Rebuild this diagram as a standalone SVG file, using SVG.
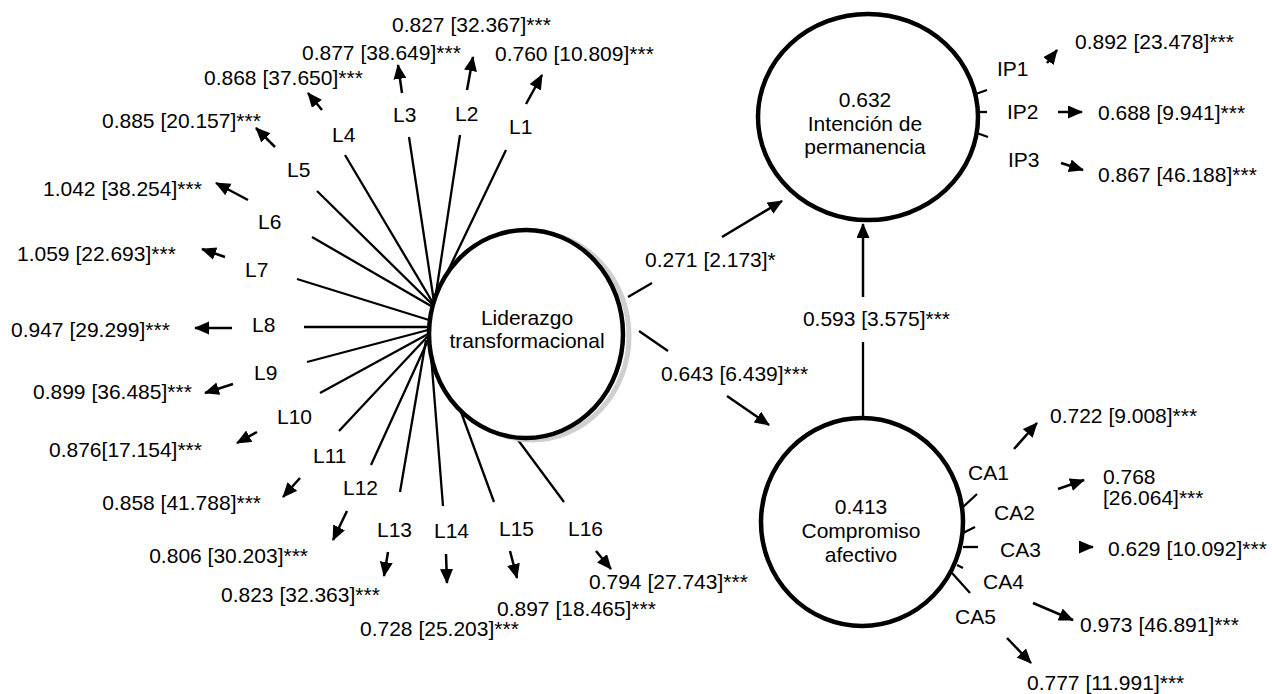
<svg xmlns="http://www.w3.org/2000/svg" width="1272" height="694" viewBox="0 0 1272 694">
<style>
text{font-family:"Liberation Sans",Arial,sans-serif;font-size:21px;fill:#000}
.c{text-anchor:middle}
.e{text-anchor:end}
.ln{stroke:#000;stroke-width:2.3;fill:none}
.ar{stroke:#000;stroke-width:2.5;fill:none;marker-end:url(#ah)}
.lv{fill:#fff;stroke:#000;stroke-width:4.5}
</style>
<defs>
<marker id="ah" markerUnits="userSpaceOnUse" markerWidth="16" markerHeight="14" refX="14" refY="6.5" orient="auto">
<path d="M0,0 L15,6.5 L0,13 z" fill="#000"/>
</marker>
</defs>
<rect width="1272" height="694" fill="#fff"/>
<g id="connectors">
<line class="ln" x1="506" y1="150" x2="434" y2="300"/>
<line class="ln" x1="460" y1="135" x2="435" y2="300"/>
<line class="ln" x1="409" y1="137" x2="434" y2="302"/>
<line class="ln" x1="345" y1="155" x2="433" y2="303"/>
<line class="ln" x1="317" y1="191" x2="432" y2="304"/>
<line class="ln" x1="312" y1="237" x2="431" y2="306"/>
<line class="ln" x1="297" y1="279" x2="429" y2="320"/>
<line class="ln" x1="304" y1="327" x2="428" y2="327"/>
<line class="ln" x1="307" y1="362" x2="428" y2="330"/>
<line class="ln" x1="320" y1="393" x2="428" y2="334"/>
<line class="ln" x1="339" y1="431" x2="428" y2="336"/>
<line class="ln" x1="371" y1="465" x2="429" y2="338"/>
<line class="ln" x1="400" y1="492" x2="426" y2="340"/>
<line class="ln" x1="443" y1="506" x2="430" y2="342"/>
<line class="ln" x1="494" y1="502" x2="461" y2="412"/>
<line class="ln" x1="564" y1="502" x2="518" y2="440"/>
<line class="ar" x1="526" y1="104" x2="542" y2="75"/>
<line class="ar" x1="467" y1="90" x2="473" y2="57"/>
<line class="ar" x1="402" y1="93" x2="398" y2="65"/>
<line class="ar" x1="322" y1="110" x2="308" y2="93"/>
<line class="ar" x1="275" y1="147" x2="256" y2="128"/>
<line class="ar" x1="248" y1="200" x2="216" y2="183"/>
<line class="ar" x1="225" y1="257" x2="202" y2="249"/>
<line class="ar" x1="232" y1="328" x2="195" y2="328"/>
<line class="ar" x1="233" y1="384" x2="205" y2="393"/>
<line class="ar" x1="257" y1="432" x2="237" y2="443"/>
<line class="ar" x1="300" y1="478" x2="283" y2="497"/>
<line class="ar" x1="347" y1="511" x2="333" y2="540"/>
<line class="ar" x1="388" y1="552" x2="384" y2="576"/>
<line class="ar" x1="446" y1="554" x2="447" y2="583"/>
<line class="ar" x1="510" y1="551" x2="517" y2="578"/>
<line class="ar" x1="596" y1="551" x2="611" y2="569"/>
<line class="ln" x1="628" y1="297" x2="652" y2="283"/>
<line class="ar" x1="722" y1="237" x2="782" y2="201"/>
<line class="ln" x1="639" y1="331" x2="668" y2="351"/>
<line class="ar" x1="727" y1="396" x2="769" y2="425"/>
<line class="ln" x1="863" y1="417" x2="863" y2="342"/>
<line class="ar" x1="863" y1="297" x2="863" y2="224"/>
<line class="ln" x1="973" y1="95" x2="987" y2="90"/>
<line class="ln" x1="977" y1="112" x2="987" y2="112"/>
<line class="ln" x1="974" y1="132" x2="988" y2="137"/>
<line class="ar" x1="1047" y1="63" x2="1057" y2="50"/>
<line class="ar" x1="1058" y1="112" x2="1082" y2="112"/>
<line class="ar" x1="1061" y1="163" x2="1083" y2="170"/>
<line class="ln" x1="963" y1="507" x2="977" y2="494"/>
<line class="ln" x1="963" y1="533" x2="975" y2="527"/>
<line class="ln" x1="963" y1="547" x2="978" y2="547"/>
<line class="ln" x1="957" y1="565" x2="963" y2="568"/>
<line class="ln" x1="952" y1="573" x2="970" y2="593"/>
<line class="ar" x1="1014" y1="449" x2="1037" y2="423"/>
<line class="ar" x1="1058" y1="489" x2="1084" y2="480"/>
<line class="ar" x1="1080" y1="547" x2="1093" y2="547"/>
<line class="ar" x1="1033" y1="603" x2="1073" y2="620"/>
<line class="ar" x1="1007" y1="638" x2="1031" y2="663"/>
<text x="645" y="267">0.271 [2.173]*</text>
<text x="661" y="381">0.643 [6.439]***</text>
<text class="e" x="950" y="326">0.593 [3.575]***</text>
</g>
<g id="LT">
<ellipse cx="532" cy="336" rx="97" ry="104" fill="none" stroke="#cfcfcf" stroke-width="5"/>
<ellipse class="lv" cx="526" cy="334" rx="97" ry="104"/>
<text class="c" x="527" y="325">Liderazgo</text>
<text class="c" x="527" y="348">transformacional</text>
</g>
<g id="IP">
<ellipse class="lv" cx="868" cy="117" rx="110" ry="103"/>
<text class="c" x="865" y="107">0.632</text>
<text class="c" x="865" y="131">Intención de</text>
<text class="c" x="865" y="154">permanencia</text>
</g>
<g id="CA">
<ellipse class="lv" cx="862" cy="522" rx="101" ry="104"/>
<text class="c" x="861" y="514">0.413</text>
<text class="c" x="861" y="538">Compromiso</text>
<text class="c" x="861" y="562">afectivo</text>
</g>
<g id="L1"><text x="509" y="134">L1</text><text x="495" y="61">0.760 [10.809]***</text></g>
<g id="L2"><text x="455" y="121">L2</text><text x="392" y="32">0.827 [32.367]***</text></g>
<g id="L3"><text x="393" y="122">L3</text><text x="302" y="60">0.877 [38.649]***</text></g>
<g id="L4"><text x="332" y="142">L4</text><text x="204" y="85">0.868 [37.650]***</text></g>
<g id="L5"><text x="287" y="177">L5</text><text x="102" y="128">0.885 [20.157]***</text></g>
<g id="L6"><text x="258" y="229">L6</text><text x="43" y="196">1.042 [38.254]***</text></g>
<g id="L7"><text x="245" y="277">L7</text><text x="17" y="261">1.059 [22.693]***</text></g>
<g id="L8"><text x="252" y="332">L8</text><text x="11" y="337">0.947 [29.299]***</text></g>
<g id="L9"><text x="254" y="380">L9</text><text x="33" y="399">0.899 [36.485]***</text></g>
<g id="L10"><text x="277" y="424">L10</text><text x="49" y="457">0.876[17.154]***</text></g>
<g id="L11"><text x="313" y="463">L11</text><text class="e" x="261" y="510">0.858 [41.788]***</text></g>
<g id="L12"><text x="343" y="495">L12</text><text class="e" x="308" y="563">0.806 [30.203]***</text></g>
<g id="L13"><text x="377" y="537">L13</text><text x="221" y="602">0.823 [32.363]***</text></g>
<g id="L14"><text x="434" y="538">L14</text><text x="360" y="636">0.728 [25.203]***</text></g>
<g id="L15"><text x="499" y="536">L15</text><text x="497" y="616">0.897 [18.465]***</text></g>
<g id="L16"><text x="568" y="536">L16</text><text x="589" y="589">0.794 [27.743]***</text></g>
<g id="IP1"><text x="997" y="76">IP1</text><text x="1075" y="49">0.892 [23.478]***</text></g>
<g id="IP2"><text x="1007" y="119">IP2</text><text x="1098" y="120">0.688 [9.941]***</text></g>
<g id="IP3"><text x="1008" y="167">IP3</text><text x="1098" y="182">0.867 [46.188]***</text></g>
<g id="CA1"><text x="968" y="480">CA1</text><text x="1050" y="423">0.722 [9.008]***</text></g>
<g id="CA2"><text x="994" y="520">CA2</text><text x="1103" y="484">0.768</text><text x="1103" y="505">[26.064]***</text></g>
<g id="CA3"><text x="1000" y="557">CA3</text><text x="1108" y="556">0.629 [10.092]***</text></g>
<g id="CA4"><text x="983" y="589">CA4</text><text x="1080" y="632">0.973 [46.891]***</text></g>
<g id="CA5"><text x="955" y="624">CA5</text><text x="1027" y="690">0.777 [11.991]***</text></g>
</svg>
